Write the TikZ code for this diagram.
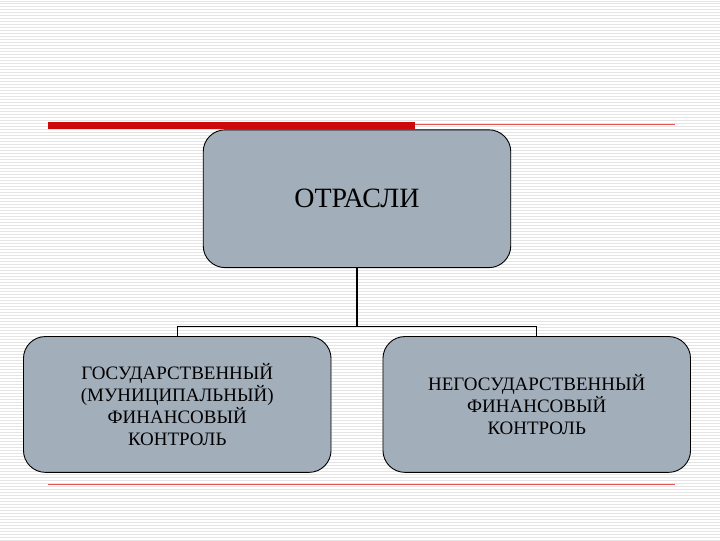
\documentclass[tikz,border=0pt]{standalone}
\usepackage{fontspec}
\setmainfont{Liberation Serif}
\begin{document}
\begin{tikzpicture}[x=1pt,y=-1pt,
  box/.style={draw=black,line width=0.9pt,fill=boxc,rounded corners=22pt,align=center,font=\fontsize{19}{22}\selectfont,inner sep=0pt},
  conn/.style={line width=1.3pt}]
\definecolor{boxc}{HTML}{A3AEBB}
\definecolor{redc}{HTML}{CC0A0A}
\fill[white] (0,0) rectangle (720,540);
\foreach \y in {0,3,...,540} \draw[black!10,line width=1pt] (0,\y+1) -- (720,\y+1);
\fill[redc] (48,122) rectangle (415,129);
\draw[redc!70,line width=0.6pt] (415,124) -- (675,124);
\draw[redc!70,line width=0.6pt] (48,485) -- (675,485);
\node[box,minimum width=308pt,minimum height=138pt,font=\fontsize{28}{32}\selectfont] (top) at (357,199) {ОТРАСЛИ};
\node[box,minimum width=308pt,minimum height=136pt] (l) at (177,405) {ГОСУДАРСТВЕННЫЙ\\(МУНИЦИПАЛЬНЫЙ)\\ФИНАНСОВЫЙ\\КОНТРОЛЬ};
\node[box,minimum width=308pt,minimum height=136pt] (r) at (537,405) {НЕГОСУДАРСТВЕННЫЙ\\ФИНАНСОВЫЙ\\КОНТРОЛЬ};
\coordinate (j) at (357,327);
\draw[conn] (top.south) -- (j);
\draw[conn] (l.north) -- (177,327) -- (537,327) -- (r.north);
\end{tikzpicture}
\end{document}
